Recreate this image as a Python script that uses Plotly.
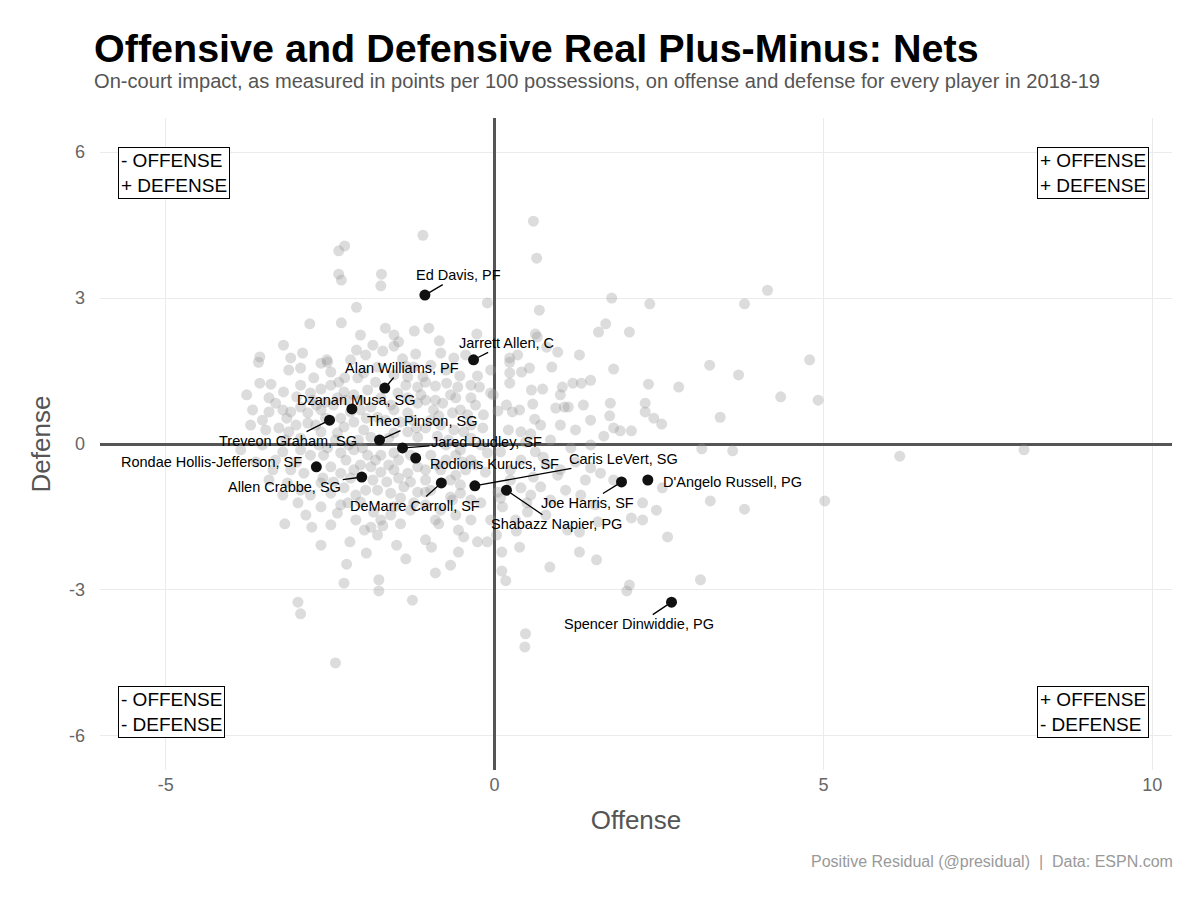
import plotly.graph_objects as go

# ==========================================
# DATA
# ==========================================

# every other player of the league (grey cloud)
otros_offense = [
    0.59, 0.64, -1.09, -2.28, -2.37, -2.37, -2.33, -1.72, -1.73, -0.11, 1.78, 0.68, 4.15, 3.80, 2.36,
    -2.10, -2.81, -2.33, -3.57, -2.92, -2.55, -1.66, -1.53, -1.46, -1.53, -1.22, -1.70, -1.20, -1.40,
    -1.00, -0.84, -0.82, -0.27, -0.44, 0.62, 0.65, 0.79, 0.96, 1.29, 1.69, 1.58, 0.23, 0.35, -0.62,
    2.05, 3.27, 3.71, 4.79, 2.34, 2.80, 2.29, 2.29, 2.42, 2.54, 3.43, 4.35, 4.92, 2.08, 1.91,
    3.15, 3.62, 2.55, 2.25, 2.46, 3.28, 3.80, 5.02, 2.08, 2.25, 2.63, 3.13, 2.05, 2.01,
    6.16, 8.05,
    -0.85, -0.47, -0.26, -0.11, 0.03, -0.96, -0.55, -0.67, -0.90, 0.11, 0.38, 0.11, 0.17, 0.84, 1.29,
    1.55, 0.33, 1.11, 1.29, 1.57, 0.47, 0.46,
    -3.19, -2.78, -2.20, -1.98, -1.88, -1.70, -1.78, -1.43, -1.95, -1.35, -2.25, -2.29, -1.76, -1.76,
    -1.25, -2.99, -2.95, -2.42,
    0.23, 0.41, 0.53, 0.87, 0.23, 0.23, 0.56, 0.73, 1.03, 1.19, 1.32, 1.81, -0.53, -0.26, -0.23, -0.56,
    -0.73, -0.90, -1.09, -0.02, -0.06, 0.05, -0.17, 0.27, 0.38, 0.61, 0.58, 0.93, 1.06, 1.12, 1.76,
    1.75, 1.81, 1.66, -0.79, -0.93, -0.64, -0.41, -0.62, -0.47, -0.18, 0.21, 0.40, 0.55, 0.47, 0.09,
    -0.11, 0.62, 0.74, 0.59, 0.96, 0.24, 1.61, 1.81, 0.09, 0.12, 0.05, 0.49, 0.50, -0.52, -0.36, -0.21,
    -1.05, -0.97, -0.70, -0.97, -0.74, -0.52, -0.36, -1.05, -0.82, -0.59, -0.44, -0.97, -0.67, -1.05,
    -0.82, -0.59, -0.90, 0.40, 0.78, 1.00, 1.23, 1.46, 0.70, 1.08, 1.31, 1.53, 1.46, 1.23, 1.00, 1.35,
    -3.59, -3.13, -2.95, -2.64, -2.54, -2.37, -2.08, -1.99, -1.78, -1.53, -1.32, -1.23,
    -3.57, -3.40, -3.21, -3.77, -3.01, -2.80, -2.64, -2.39, -2.14, -1.93, -1.47, -1.32, -1.17,
    -3.33, -3.22, -2.95, -2.84, -2.64, -2.45, -2.34, -2.04, -1.88, -1.78, -1.53, -1.32, -1.17,
    -3.28, -2.84, -2.72, -2.64, -2.39, -2.29, -2.14, -1.99, -1.88, -1.53, -1.32, -1.17,
    -3.86, -2.95, -2.80, -2.54, -2.34, -2.14, -1.93, -1.73, -1.53, -1.28,
    -3.10, -2.90, -2.49, -2.34, -2.14, -1.88, -1.73, -1.53, -1.32, -1.17,
    -3.15, -2.95, -2.64, -2.49, -2.29, -1.78, -1.58, -1.38, -1.17,
    -2.99, -2.64, -2.39, -2.23, -2.04, -1.84, -1.53, -1.23,
    # denser core
    -3.48, -3.18, -3.02, -3.71, -3.53, -3.33, -3.22, -3.01, -2.67, -2.42, -2.22, -2.07, -2.26, -2.04,
    -1.81, -1.61, -1.46, -2.61, -2.45, -2.19, -1.85, -1.64, -1.46, -1.28, -1.05, -2.80, -2.11, -1.96,
    -1.43, -1.05, -2.77, -2.57, -2.26, -2.04, -1.73, -1.58, -2.57, -2.19, -1.95, -1.66, -1.43, -1.25,
    -1.05, -0.82, -2.95, -2.49, -2.28, -1.81, -1.35, -1.12, -0.90, -0.67, -0.36, -0.29, -0.52, -0.36,
    -0.74, -0.59, -0.21, -0.29, -0.14, -0.67, -0.52, 0.24, 0.40, 0.85, 0.32, -0.36, -1.58, -2.11,
    -2.49, -3.37, -3.43, -3.10, -2.19, -1.96, -0.97, -0.74, -0.06, -0.36,
    -3.43, -3.68, -3.53, -3.13, -2.95, -2.71, -2.29, -2.49, -2.75, -3.10, -3.21, -2.10, -1.85, -2.04,
    -1.35, -1.05, -0.59, -0.85, -0.36, -0.49, -0.88, -0.64, -1.28, -1.73, -2.34, -2.87, -3.22, -3.43,
    -3.63, -3.16, -2.60, -2.01, -1.61, -1.19, -0.87, 0.18, 0.70, 0.85, 1.16, 1.46, 1.38, 0.55, 0.78,
    -0.06, -0.55, -1.05, -1.49, -2.64, 1.00, 1.46,
]

otros_defense = [
    4.58, 3.82, 4.29, 4.07, 3.97, 3.49, 3.37, 3.49, 3.25, 2.90, 3.00, 2.75, 3.16, 2.88, 2.88,
    2.81, 2.47, 2.49, 1.79, 1.87, 1.73, 2.38, 2.24, 2.10, 2.01, 2.32, 1.91, 1.85, 1.75,
    2.38, 2.12, 1.87, 2.26, 1.83, 2.26, 2.20, 1.99, 1.89, 1.83, 2.47, 2.30, 1.77, 1.83, 1.77,
    2.30, 1.62, 1.42, 1.73, 1.23, 1.17, 0.84, 0.66, 0.53, 0.41, 0.55, 0.97, 0.90, 0.27, 0.27,
    -0.10, -0.14, -0.90, -1.21, -1.36, -1.17, -1.34, -1.17, -1.52, -1.56, -1.91, -2.79, -2.90, -3.02,
    -0.25, -0.12,
    -1.64, -1.91, -2.01, -2.01, -1.87, -2.12, -2.22, -2.49, -2.65, -2.22, -2.12, -2.61, -2.81, -2.53, -2.22,
    -2.38, -1.79, -1.77, -1.81, -1.60, -3.90, -4.17,
    -1.64, -1.71, -2.01, -1.77, -1.71, -1.68, -1.87, -1.64, -2.24, -2.36, -2.47, -2.86, -2.79, -3.02,
    -3.21, -3.25, -3.49, -4.50,
    1.68, 1.48, 1.56, 1.58, 1.46, 1.25, 1.11, 1.13, 1.17, 1.25, 1.25, 1.54, 1.40, 1.40, 1.17, 1.17,
    1.25, 1.19, 1.38, 1.01, 1.05, 0.68, 0.60, 0.66, 0.70, 0.51, 0.82, 0.74, 0.76, 0.76, 0.84,
    0.58, 0.33, 0.16, 0.84, 0.70, 0.64, 0.60, 0.29, 0.25, 0.33, 0.29, 0.25, 0.21, 0.04, -0.16,
    -0.18, -0.16, -0.27, -0.68, -0.64, -0.53, -0.60, -0.74, -1.11, -1.29, -0.99, -1.21, -1.40, -1.01, -1.15, -1.21,
    0.90, 0.49, 0.08, -0.23, -0.33, -0.12, -0.33, -0.53, -0.53, -0.64, -0.53, -0.95, -1.09, -1.25,
    -1.36, -1.46, -1.56, -0.33, -0.43, -0.53, -0.37, -0.49, -0.88, -0.95, -1.05, -1.25, 0.49, 0.29, 0.39, 0.80,
    1.68, 1.52, 1.56, 1.66, 1.68, 1.27, 1.36, 1.46, 1.58, 1.42, 1.38, 1.58,
    1.25, 1.23, 1.07, 1.01, 0.97, 1.05, 1.13, 0.95, 1.01, 1.11, 1.05, 0.95, 1.17,
    0.84, 0.70, 0.76, 0.64, 0.70, 0.80, 0.53, 0.70, 0.76, 0.55, 0.70, 0.64, 0.84,
    0.33, 0.43, 0.39, 0.25, 0.23, 0.35, 0.45, 0.29, 0.14, 0.23, 0.25, 0.14,
    -0.12, -0.12, -0.23, -0.08, -0.18, -0.12, -0.23, -0.23, -0.18, -0.23,
    -0.53, -0.60, -0.47, -0.60, -0.53, -0.47, -0.58, -0.53, -0.60, -0.47,
    -0.80, -0.95, -0.80, -1.01, -0.90, -0.95, -1.01, -0.88, -0.99,
    -1.21, -1.29, -1.42, -1.21, -1.19, -1.40, -1.29, -1.21,
    # denser core
    0.29, 0.08, 0.39, 0.39, -0.02, -0.33, -0.16, -0.37, -0.02, 0.08, -0.02, 0.08, -0.33, -0.43,
    -0.33, -0.43, -0.33, -0.70, -0.78, -0.70, -0.74, -0.78, -0.70, -0.78, -0.74, -1.05, -1.05, -0.95,
    -1.11, -0.99, 0.90, 0.86, 0.90, 0.90, 0.95, 0.80, 0.53, 0.66, 0.53, 0.49, 0.45, 0.49,
    0.33, 0.39, 1.21, 1.21, 1.36, 1.27, 1.21, 1.01, 0.90, 1.01, 0.95, 0.80, 0.70, 0.39,
    -0.02, -0.23, -0.02, -0.43, -0.58, -0.74, -0.84, -0.74, -0.90, -1.15, -1.56, -1.56, -1.46, -1.56,
    -1.66, -0.53, 0.66, 0.66, 1.73, 1.83, 1.62, 1.52, 1.52, 1.21,
    0.95, 0.70, 0.49, 0.25, 0.12, 0.80, 1.07, 1.48, 1.36, 1.77, 2.03, 1.93, 2.03, 2.24,
    1.60, 1.27, 0.95, 0.58, 0.12, -0.37, -0.43, -1.15, -1.36, -1.56, -1.25, -1.46, -1.05, -0.74,
    -0.37, 0.53, -0.23, -0.08, 0.12, 0.33, 0.16, 0.80, 0.39, 0.08, -0.08, -0.02, -0.74, -1.05, -1.46,
    -1.56, -1.77, -1.97, -2.08, -2.08, 1.01, 1.31,
]

# highlighted Nets players
nets_jugadores = [
    "Ed Davis, PF", "Jarrett Allen, C", "Alan Williams, PF", "Dzanan Musa, SG",
    "Treveon Graham, SG", "Theo Pinson, SG", "Jared Dudley, SF", "Rodions Kurucs, SF",
    "Rondae Hollis-Jefferson, SF", "Allen Crabbe, SG", "DeMarre Carroll, SF", "Caris LeVert, SG",
    "Shabazz Napier, PG", "Joe Harris, SF", "D'Angelo Russell, PG", "Spencer Dinwiddie, PG",
]
nets_offense = [-1.06, -0.32, -1.67, -2.17, -2.51, -1.75, -1.40, -1.20,
                -2.71, -2.02, -0.81, -0.30, 0.18, 1.93, 2.33, 2.69]
nets_defense = [3.06, 1.73, 1.15, 0.72, 0.49, 0.08, -0.08, -0.29,
                -0.47, -0.68, -0.80, -0.86, -0.95, -0.78, -0.74, -3.25]

x_ticks = [-5, 0, 5, 10]
x_ticktext = ["-5", "0", "5", "10"]
y_ticks = [-6, -3, 0, 3, 6]
y_ticktext = ["-6", "-3", "0", "3", "6"]

# label offsets in pixels (dx, dy screen), and whether a segment is drawn
etiqueta_offsets = [
    (34, -20, True), (33, -17, True), (17, -20, True), (4, -9, False),
    (-42, 21, True), (42, -19, True), (84, -6, True), (79, 6, False),
    (-105, -5, False), (-77, 10, True), (-26, 23, True), (149, -27, True),
    (50, 34, True), (-34, 21, True), (85, 2, False), (-33, 22, True),
]

FONTE = "Liberation Sans, Arial, Helvetica, sans-serif"

# ==========================================
# FIGURE
# ==========================================

fig = go.Figure()

fig.add_trace(
    go.Scatter(
        x=otros_offense,
        y=otros_defense,
        mode="markers",
        name="League",
        marker=dict(size=11, color="rgba(150,150,150,0.33)", line=dict(width=0)),
        hoverinfo="skip"
    )
)

fig.add_trace(
    go.Scatter(
        x=nets_offense,
        y=nets_defense,
        mode="markers",
        name="Nets",
        text=nets_jugadores,
        marker=dict(size=11, color="#111111", line=dict(width=0))
    )
)

anotacoes = []

for nome, xo, yd, (dx, dy, seg) in zip(nets_jugadores, nets_offense, nets_defense, etiqueta_offsets):
    if seg:
        anotacoes.append(dict(
            x=xo, y=yd, xref="x", yref="y", text=nome,
            showarrow=True, ax=dx, ay=dy, arrowhead=0, arrowwidth=1.3,
            arrowcolor="black", standoff=5,
            font=dict(family=FONTE, size=14.5, color="black")
        ))
    else:
        anotacoes.append(dict(
            x=xo, y=yd, xref="x", yref="y", text=nome,
            showarrow=False, xshift=dx, yshift=-dy,
            font=dict(family=FONTE, size=14.5, color="black")
        ))

# quadrant boxes
quadrantes = [
    ("- OFFENSE<br>+ DEFENSE", -5.72, 6.10, "left", "top"),
    ("+ OFFENSE<br>+ DEFENSE", 9.95, 6.10, "right", "top"),
    ("- OFFENSE<br>- DEFENSE", -5.72, -6.04, "left", "bottom"),
    ("+ OFFENSE<br>- DEFENSE", 9.95, -6.04, "right", "bottom"),
]

for texto, qx, qy, xa, ya in quadrantes:
    anotacoes.append(dict(
        x=qx, y=qy, xref="x", yref="y", text=texto,
        showarrow=False, xanchor=xa, yanchor=ya, align="left",
        bordercolor="black", borderwidth=1, borderpad=2, bgcolor="white",
        font=dict(family=FONTE, size=19, color="black")
    ))

anotacoes.append(dict(
    x=-0.0075, y=1.057, xref="paper", yref="paper",
    text="On-court impact, as measured in points per 100 possessions, on offense and defense for every player in 2018-19",
    showarrow=False, xanchor="left", yanchor="middle",
    font=dict(family=FONTE, size=20.1, color="#555555")
))

anotacoes.append(dict(
    x=1, y=-0.141, xref="paper", yref="paper", xshift=3,
    text="Positive Residual (@presidual)  |  Data: ESPN.com",
    showarrow=False, xanchor="right", yanchor="middle",
    font=dict(family=FONTE, size=16, color="#999999")
))

fig.update_layout(
    width=1200,
    height=900,
    template="plotly_white",
    plot_bgcolor="white",
    paper_bgcolor="white",
    showlegend=False,
    margin=dict(l=92, r=36, t=110, b=138),
    title=dict(
        text="<b>Offensive and Defensive Real Plus-Minus: Nets</b>",
        x=86 / 1200, xref="container", xanchor="left",
        y=1 - 40 / 900, yref="container", yanchor="middle",
        font=dict(family=FONTE, size=39.5, color="black")
    ),
    annotations=anotacoes,
    font=dict(family=FONTE)
)

fig.update_xaxes(
    range=[-6, 10.3],
    tickvals=x_ticks,
    ticktext=x_ticktext,
    showgrid=True,
    gridcolor="#ebebeb",
    gridwidth=1,
    zeroline=True,
    zerolinecolor="#555555",
    zerolinewidth=2.5,
    showline=False,
    ticks="",
    ticklabelstandoff=2,
    tickfont=dict(family=FONTE, size=18, color="#666666"),
    title=dict(text="Offense", font=dict(family=FONTE, size=26, color="#555555"), standoff=16)
)

fig.update_yaxes(
    range=[-6.7, 6.7],
    tickvals=y_ticks,
    ticktext=y_ticktext,
    showgrid=True,
    gridcolor="#ebebeb",
    gridwidth=1,
    zeroline=True,
    zerolinecolor="#555555",
    zerolinewidth=2.5,
    showline=False,
    ticks="",
    ticklabelstandoff=14,
    tickfont=dict(family=FONTE, size=18, color="#666666"),
    title=dict(text="Defense", font=dict(family=FONTE, size=26, color="#555555"), standoff=10)
)

fig.write_html("out.html")
